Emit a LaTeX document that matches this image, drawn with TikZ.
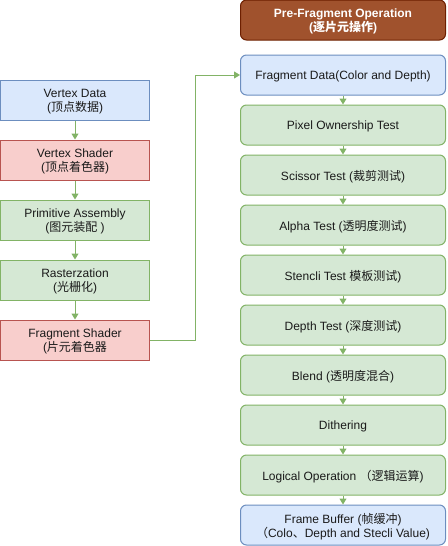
\documentclass[tikz,border=0pt]{standalone}
\usepackage{fontspec}
\setmainfont{Liberation Sans}
\newfontfamily\cjk{Noto Sans CJK SC}
\usetikzlibrary{arrows.meta}
\definecolor{bfill}{HTML}{DAE8FC}\definecolor{bdraw}{HTML}{6C8EBF}
\definecolor{rfill}{HTML}{F8CECC}\definecolor{rdraw}{HTML}{B85450}
\definecolor{gfill}{HTML}{D5E8D4}\definecolor{gdraw}{HTML}{82B366}
\definecolor{ofill}{HTML}{A0522D}\definecolor{odraw}{HTML}{6D1F00}
\definecolor{tcol}{HTML}{1A1A1A}
\tikzset{
  base/.style={draw, line width=1pt, inner sep=0pt},
  lab/.style={inner sep=0pt, align=center, text=tcol, yshift=-1.5pt,
    font=\fontsize{12pt}{14.5pt}\selectfont},
  lbl/.style={label={[lab]center:{#1}}},
  lbox/.style={base, minimum width=149pt, minimum height=40pt},
  rbox/.style={base, rounded corners=6pt, minimum width=205pt, minimum height=40pt},
  blue/.style={fill=bfill, draw=bdraw},
  red/.style={fill=rfill, draw=rdraw},
  green/.style={fill=gfill, draw=gdraw},
  orange/.style={fill=ofill, draw=odraw},
  conn/.style={draw=gdraw, line width=1pt, -{Triangle[width=7pt,length=6pt]}}
}
\begin{document}
\begin{tikzpicture}[x=1pt,y=-1pt]
\useasboundingbox (0,0) rectangle (447,546);
% left column
\node[lbox,blue,lbl={Vertex Data\\({\cjk 顶点数据})}]  (vd) at (75,100) {};
\node[lbox,red,lbl={Vertex Shader\\({\cjk 顶点着色器})}]   (vs) at (75,160) {};
\node[lbox,green,lbl={Primitive Assembly\\({\cjk 图元装配} )}] (pa) at (75,220) {};
\node[lbox,green,lbl={Rasterzation\\({\cjk 光栅化})}] (ra) at (75,280) {};
\node[lbox,red,lbl={Fragment Shader\\({\cjk 片元着色器}}]   (fs) at (75,340) {};
% right column
\node[rbox,orange,label={[lab,text=white,font=\fontsize{12pt}{14.5pt}\selectfont\bfseries]center:{Pre-Fragment Operation\\({\cjk 逐片元操作})}}] (pf) at (343,20) {};
\node[rbox,blue,lbl={Fragment Data(Color and Depth)}]  (fd) at (343,75) {};
\node[rbox,green,lbl={Pixel Ownership Test}] (po) at (343,125) {};
\node[rbox,green,lbl={Scissor Test ({\cjk 裁剪测试})}] (st) at (343,175) {};
\node[rbox,green,lbl={Alpha Test ({\cjk 透明度测试})}] (at) at (343,225) {};
\node[rbox,green,lbl={Stencli Test {\cjk 模板测试})}] (sl) at (343,275) {};
\node[rbox,green,lbl={Depth Test ({\cjk 深度测试})}] (dt) at (343,325) {};
\node[rbox,green,lbl={Blend ({\cjk 透明度混合})}] (bl) at (343,375) {};
\node[rbox,green,lbl={Dithering}] (di) at (343,425) {};
\node[rbox,green,lbl={Logical Operation {\cjk （逻辑运算})}] (lo) at (343,475) {};
\node[rbox,blue,lbl={Frame Buffer ({\cjk 帧缓冲})\\{\cjk （}Colo{\cjk 、}Depth and Stecli Value)}]  (fb) at (343,525) {};
% connectors
\draw[conn] (vd) -- (vs);
\draw[conn] (vs) -- (pa);
\draw[conn] (pa) -- (ra);
\draw[conn] (ra) -- (fs);
\draw[conn] (fs.east) -- ++(45,0) |- (fd.west);
\draw[conn] (fd) -- (po);
\draw[conn] (po) -- (st);
\draw[conn] (st) -- (at);
\draw[conn] (at) -- (sl);
\draw[conn] (sl) -- (dt);
\draw[conn] (dt) -- (bl);
\draw[conn] (bl) -- (di);
\draw[conn] (di) -- (lo);
\draw[conn] (lo) -- (fb);
\end{tikzpicture}
\end{document}
